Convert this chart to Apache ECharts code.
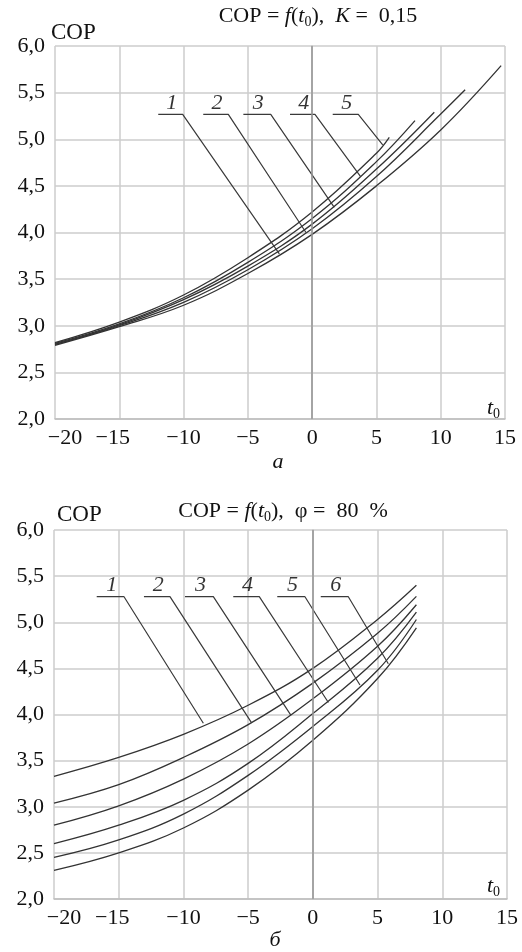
<!DOCTYPE html>
<html>
<head>
<meta charset="utf-8">
<script src="https://cdn.jsdelivr.net/npm/echarts@6/dist/echarts.min.js"></script>
<style>
html,body{margin:0;padding:0;background:#fff}
#chart{width:522px;height:952px}
</style>
</head>
<body>
<div id="chart"></div>
<script>
// оси
var xTicks = [-20, -15, -10, -5, 0, 5, 10, 15];
var yTicks = [2.0, 2.5, 3.0, 3.5, 4.0, 4.5, 5.0, 5.5, 6.0];

// а) COP = f(t0), K = 0,15  (кривая 1 нижняя, 5 верхняя)
var topT1 = [-20, -15, -10, -5, 0, 5, 10, 14.7];
var topCop1 = [2.79, 2.99, 3.22, 3.56, 3.98, 4.50, 5.10, 5.79];
var topT2 = [-20, -15, -10, -5, 0, 5, 10, 11.9];
var topCop2 = [2.80, 3.00, 3.25, 3.60, 4.04, 4.60, 5.27, 5.53];
var topT3 = [-20, -15, -10, -5, 0, 5, 9.5];
var topCop3 = [2.80, 3.01, 3.28, 3.64, 4.09, 4.68, 5.29];
var topT4 = [-20, -15, -10, -5, 0, 5, 8];
var topCop4 = [2.81, 3.02, 3.30, 3.68, 4.15, 4.76, 5.20];
var topT5 = [-20, -15, -10, -5, 0, 5, 6];
var topCop5 = [2.82, 3.04, 3.33, 3.73, 4.22, 4.85, 5.02];

// б) COP = f(t0), φ = 80 %  (кривая 1 верхняя, 6 нижняя)
var botT = [-20, -15, -10, -5, 0, 5, 8];
var botCop1 = [3.33, 3.535, 3.785, 4.10, 4.50, 5.03, 5.40];
var botCop2 = [3.04, 3.24, 3.535, 3.89, 4.34, 4.88, 5.28];
var botCop3 = [2.80, 3.01, 3.30, 3.68, 4.17, 4.74, 5.19];
var botCop4 = [2.60, 2.80, 3.07, 3.47, 4.01, 4.61, 5.11];
var botCop5 = [2.45, 2.64, 2.92, 3.34, 3.87, 4.48, 5.03];
var botCop6 = [2.31, 2.50, 2.77, 3.18, 3.72, 4.39, 4.94];

// выноски: номер, горизонтальная полка (t от, t до, COP), конец на кривой
var topLeaderNames = ['1', '2', '3', '4', '5'];
var topLeaderShelf = [[-11.97, -10.07], [-8.47, -6.52], [-5.35, -3.22], [-1.72, 0.22], [1.60, 3.59]];
var topLeaderY = 5.266;
var topLeaderTip = [[-2.55, 3.77], [-0.48, 4.0], [1.72, 4.27], [3.77, 4.60], [5.49, 4.94]];

var botLeaderNames = ['1', '2', '3', '4', '5', '6'];
var botLeaderShelf = [[-16.70, -14.59], [-13.05, -11.04], [-9.88, -7.69], [-6.15, -4.14], [-2.75, -0.61], [0.61, 2.74]];
var botLeaderY = 5.277;
var botLeaderTip = [[-8.46, 3.905], [-4.73, 3.91], [-1.69, 3.99], [1.20, 4.13], [3.64, 4.32], [5.83, 4.55]];

var SERIF = '"Liberation Serif", "DejaVu Serif", serif';
var INK = '#111';
var CURVE = '#333';
var GRIDC = '#cdcdcd';

function zip(a, b) {
	var r = [];
	for (var i = 0; i < a.length; i++) r.push([a[i], b[i]]);
	return r;
}

function xAxisFor(idx) {
	return {
		type: 'value', gridIndex: idx,
		min: xTicks[0], max: xTicks[xTicks.length - 1], interval: 5,
		axisLine: {show: true, lineStyle: {color: '#bdbdbd', width: 1.5}},
		axisTick: {show: false},
		splitLine: {show: true, lineStyle: {color: GRIDC, width: 1.5}},
		axisLabel: {
			margin: 8, color: INK, fontFamily: SERIF, fontSize: 22,
			formatter: function (v) {
				var s = v < 0 ? '\u2212' + (-v) : '' + v;
				if (v == -20) return '{a|' + s + '}';
				if (v == -15) return '{b|' + s + '}';
				return s;
			},
			rich: {
				a: {fontFamily: SERIF, fontSize: 22, color: INK, padding: [0, 0, 0, 20]},
				b: {fontFamily: SERIF, fontSize: 22, color: INK, padding: [0, 13, 0, 0]}
			}
		}
	};
}

function yAxisFor(idx) {
	return {
		type: 'value', gridIndex: idx,
		min: yTicks[0], max: yTicks[yTicks.length - 1], interval: 0.5,
		axisLine: {show: true, lineStyle: {color: '#bdbdbd', width: 1.5}},
		axisTick: {show: false},
		splitLine: {show: true, lineStyle: {color: GRIDC, width: 1.5}},
		axisLabel: {
			margin: 10, color: INK, fontFamily: SERIF, fontSize: 22,
			formatter: function (v) { return v.toFixed(1).replace('.', ','); }
		}
	};
}

function curve(idx, t, cop) {
	return {
		type: 'line', xAxisIndex: idx, yAxisIndex: idx,
		data: zip(t, cop), smooth: 0.4,
		symbol: 'none', silent: true,
		lineStyle: {color: CURVE, width: 1.3}
	};
}

function leaders(idx, names, shelf, yh, tip) {
	var out = [];
	for (var i = 0; i < names.length; i++) {
		out.push({
			type: 'line', xAxisIndex: idx, yAxisIndex: idx,
			data: [[shelf[i][0], yh], [shelf[i][1], yh], tip[i]],
			symbol: 'none', silent: true, smooth: false,
			lineStyle: {color: '#3a3a3a', width: 1.2}
		});
	}
	var lbl = [];
	for (var j = 0; j < names.length; j++) {
		lbl.push({name: names[j], value: [(shelf[j][0] + shelf[j][1]) / 2 + 0.1, yh]});
	}
	out.push({
		type: 'scatter', xAxisIndex: idx, yAxisIndex: idx,
		data: lbl, symbolSize: 0, silent: true,
		label: {
			show: true, position: 'top', distance: 0, formatter: '{b}',
			fontFamily: SERIF, fontStyle: 'italic', fontSize: 22, color: '#000'
		}
	});
	return out;
}

function zeroLine(idx) {
	return {
		type: 'line', xAxisIndex: idx, yAxisIndex: idx, data: [],
		markLine: {
			silent: true, symbol: 'none', label: {show: false},
			lineStyle: {color: '#9a9a9a', width: 1.5, type: 'solid'},
			data: [{xAxis: 0}]
		}
	};
}

var richTitle = {
	n: {fontFamily: SERIF, fontSize: 22, fill: INK, lineHeight: 26},
	c: {fontFamily: SERIF, fontSize: 23, fill: INK, lineHeight: 26},
	i: {fontFamily: SERIF, fontSize: 22, fontStyle: 'italic', fill: INK, lineHeight: 26},
	s: {fontFamily: SERIF, fontSize: 14, fill: INK, lineHeight: 14, verticalAlign: 'bottom'}
};

function gText(x, y, text, align) {
	return {
		type: 'text', x: x, y: y, silent: true,
		style: {text: text, rich: richTitle, align: align || 'center', verticalAlign: 'middle',
			fontFamily: SERIF, fontSize: 22, fill: INK}
	};
}

var series = [zeroLine(0), zeroLine(1)];
series.push(curve(0, topT1, topCop1), curve(0, topT2, topCop2), curve(0, topT3, topCop3),
	curve(0, topT4, topCop4), curve(0, topT5, topCop5));
series.push(curve(1, botT, botCop1), curve(1, botT, botCop2), curve(1, botT, botCop3),
	curve(1, botT, botCop4), curve(1, botT, botCop5), curve(1, botT, botCop6));
series = series.concat(leaders(0, topLeaderNames, topLeaderShelf, topLeaderY, topLeaderTip));
series = series.concat(leaders(1, botLeaderNames, botLeaderShelf, botLeaderY, botLeaderTip));

var chart = echarts.init(document.getElementById('chart'), null, {renderer: 'canvas'});
chart.setOption({
	backgroundColor: '#fff',
	animation: false,
	grid: [
		{left: 55, top: 46, width: 450, height: 373, outerBoundsMode: 'none', containLabel: false},
		{left: 54, top: 530, width: 453, height: 369, outerBoundsMode: 'none', containLabel: false}
	],
	xAxis: [xAxisFor(0), xAxisFor(1)],
	yAxis: [yAxisFor(0), yAxisFor(1)],
	series: series,
	graphic: [
		gText(318, 16, '{n|COP = }{i|f}{n|(}{i|t}{s|0}{n|),  }{i|K}{n| =  0,15}'),
		gText(51, 33, '{c|COP}', 'left'),
		gText(487, 408, '{i|t}{s|0}', 'left'),
		gText(278, 462, '{i|a}'),
		gText(283, 511, '{n|COP = }{i|f}{n|(}{i|t}{s|0}{n|),  \u03c6 =  80  %}'),
		gText(57, 515, '{c|COP}', 'left'),
		gText(487, 886, '{i|t}{s|0}', 'left'),
		gText(275, 940, '{i|\u0431}')
	]
});
</script>
</body>
</html>
